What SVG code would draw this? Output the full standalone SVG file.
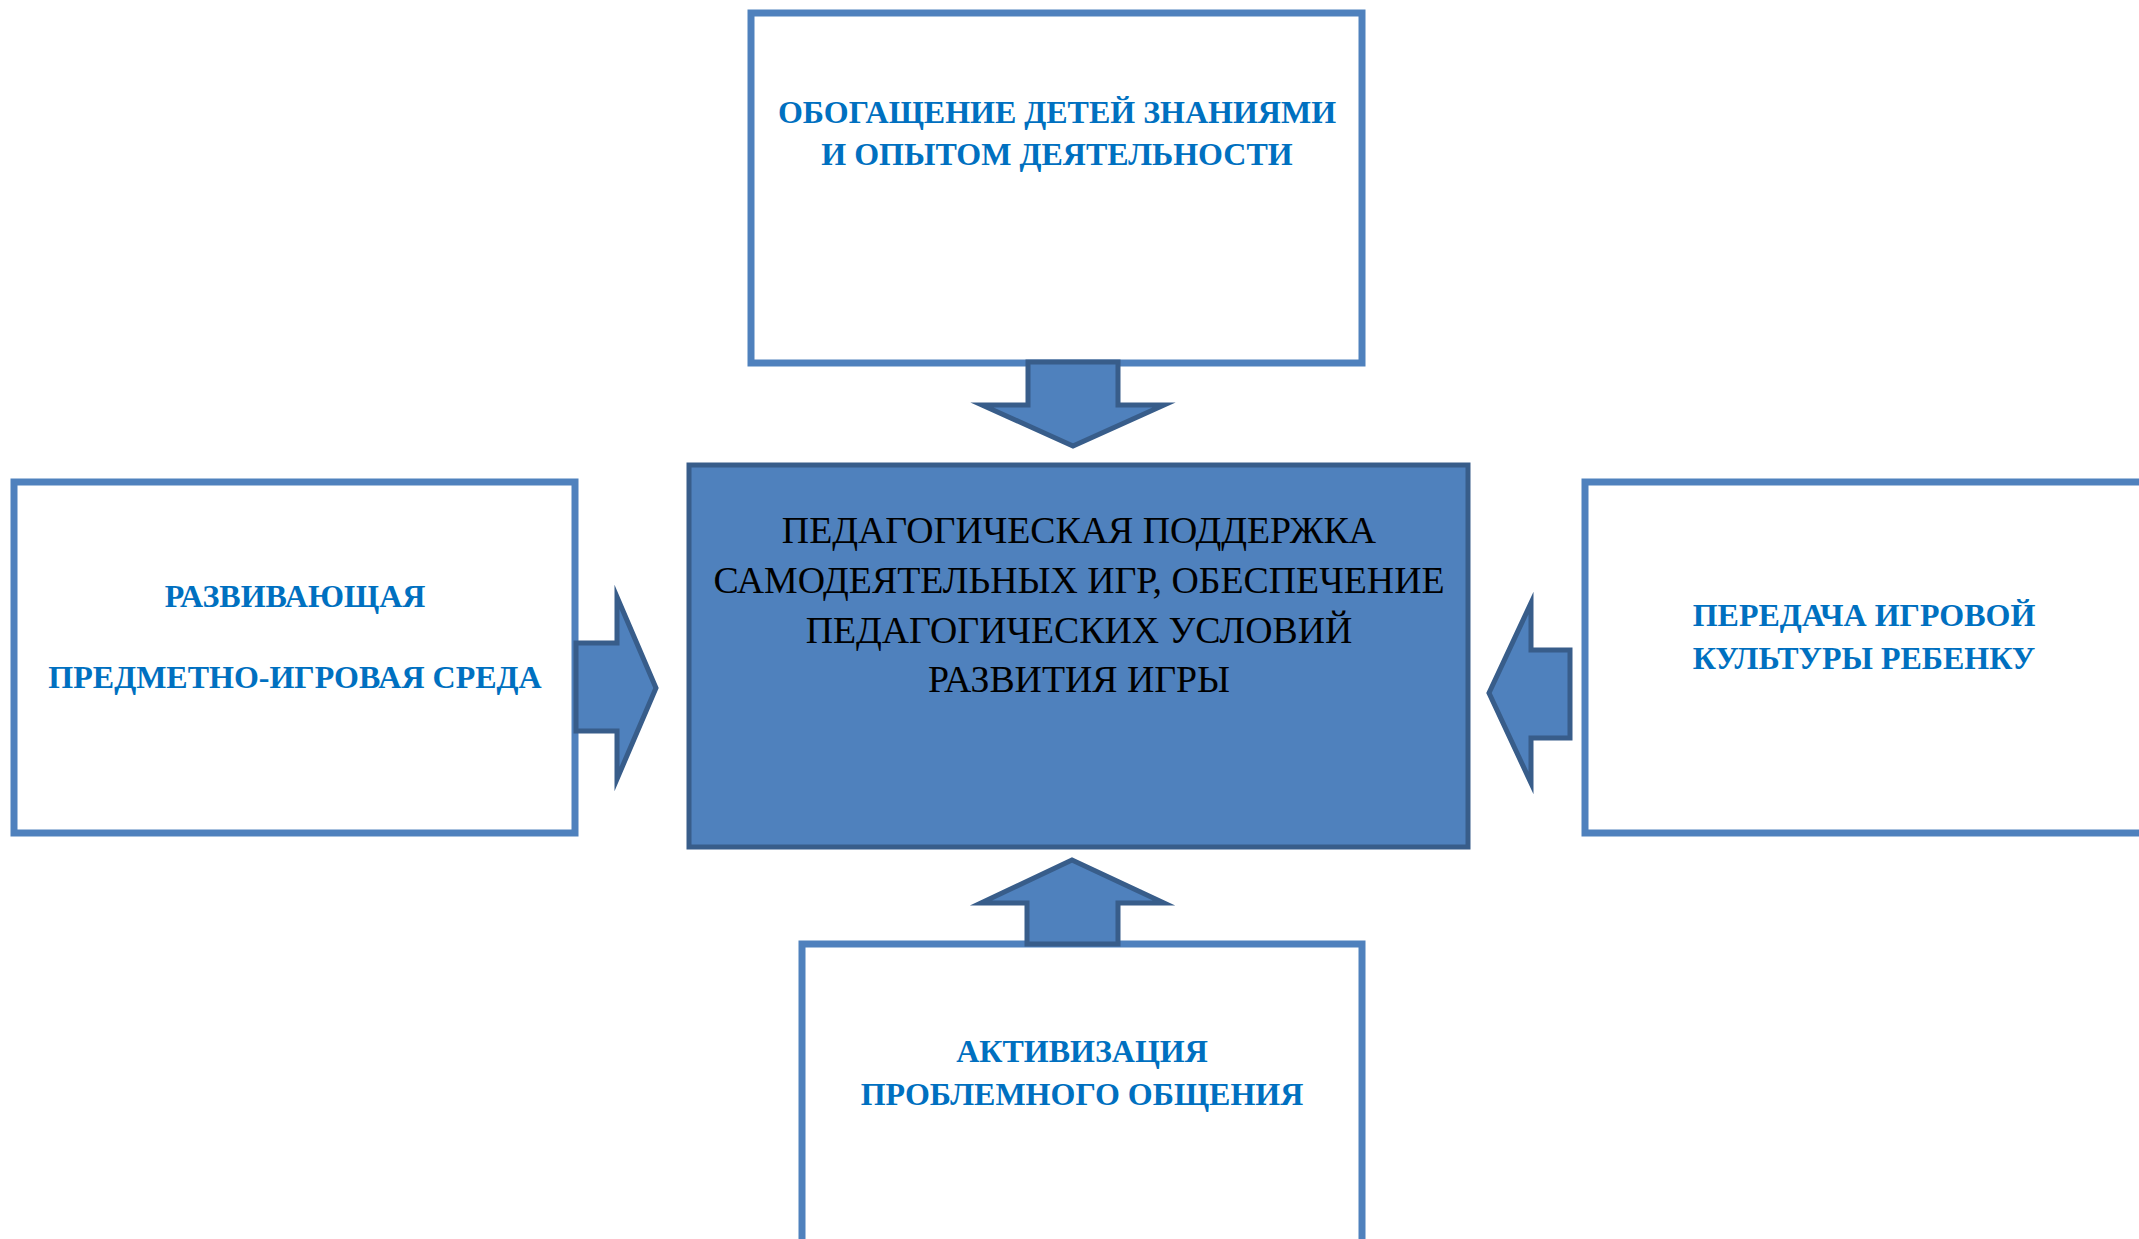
<svg xmlns="http://www.w3.org/2000/svg" width="2139" height="1239" viewBox="0 0 2139 1239">
<style>
.box{fill:#FFFFFF;stroke:#4F81BD;stroke-width:7}
.core{fill:#4F81BD;stroke:#385D8A;stroke-width:5}
.arr{fill:#4F81BD;stroke:#385D8A;stroke-width:5;stroke-linejoin:miter;stroke-miterlimit:10}
.lbl{font-family:"Liberation Serif","Times New Roman",serif;font-weight:bold;font-size:32px;fill:#0070C0;text-anchor:middle}
.ctr{font-family:"Liberation Serif","Times New Roman",serif;font-size:37.8px;fill:#000000;text-anchor:middle}
</style>
<rect width="2139" height="1239" fill="#FFFFFF"/>
<g id="node-top">
<rect class="box" x="751" y="13" width="611" height="350"/>
<text class="lbl" x="1057" y="123">ОБОГАЩЕНИЕ ДЕТЕЙ ЗНАНИЯМИ</text>
<text class="lbl" x="1057" y="165">И ОПЫТОМ ДЕЯТЕЛЬНОСТИ</text>
</g>
<g id="node-left">
<rect class="box" x="14" y="482" width="561" height="351"/>
<text class="lbl" x="295" y="607">РАЗВИВАЮЩАЯ</text>
<text class="lbl" x="295" y="688">ПРЕДМЕТНО-ИГРОВАЯ СРЕДА</text>
</g>
<g id="node-right">
<rect class="box" x="1585" y="482" width="620" height="351"/>
<text class="lbl" x="1864" y="626">ПЕРЕДАЧА ИГРОВОЙ</text>
<text class="lbl" x="1864" y="669">КУЛЬТУРЫ РЕБЕНКУ</text>
</g>
<g id="node-bottom">
<rect class="box" x="802" y="944" width="560" height="300"/>
<text class="lbl" x="1082" y="1062">АКТИВИЗАЦИЯ</text>
<text class="lbl" x="1082" y="1105">ПРОБЛЕМНОГО ОБЩЕНИЯ</text>
</g>
<g id="node-center">
<rect class="core" x="689" y="465" width="779" height="382"/>
<text class="ctr" x="1079" y="543">ПЕДАГОГИЧЕСКАЯ ПОДДЕРЖКА</text>
<text class="ctr" x="1079" y="593">САМОДЕЯТЕЛЬНЫХ ИГР, ОБЕСПЕЧЕНИЕ</text>
<text class="ctr" x="1079" y="643">ПЕДАГОГИЧЕСКИХ УСЛОВИЙ</text>
<text class="ctr" x="1079" y="692">РАЗВИТИЯ ИГРЫ</text>
</g>
<g id="connectors">
<polygon class="arr" points="1028,362 1118,362 1118,405 1164,405 1073,446 982,405 1028,405"/>
<polygon class="arr" points="1072,860 1164,903 1118,903 1118,944 1027,944 1027,903 981,903"/>
<polygon class="arr" points="576,643 617,643 617,597 656,688 617,779 617,731 576,731"/>
<polygon class="arr" points="1570,650 1531,650 1531,603 1489,693 1531,783 1531,738 1570,738"/>
</g>
</svg>
